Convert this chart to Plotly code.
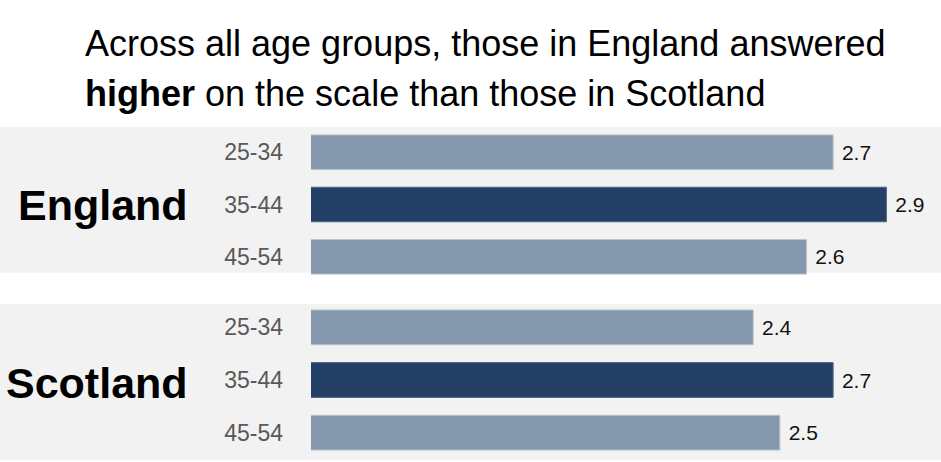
import plotly.graph_objects as go

# data
age_groups = ["25-34", "35-44", "45-54"]
england = [2.7, 2.9, 2.6]
scotland = [2.4, 2.7, 2.5]
countries = ["England", "Scotland"]
title_lines = ["Across all age groups, those in England answered",
               "<b>higher</b> on the scale than those in Scotland"]

LIGHT = "#8498ad"
DARK = "#233f66"
colors = [LIGHT, DARK, LIGHT]
edges = ["#b7c3cf", "#4a6485", "#b7c3cf"]

W, H = 941, 462
FONT = "Liberation Sans, Arial"


def py(px):
    # pixel (from top) -> paper fraction
    return 1 - px / H


fig = go.Figure()

for i, vals in enumerate([england, scotland]):
    ax = "" if i == 0 else "2"
    fig.add_trace(go.Bar(
        x=vals, y=age_groups, orientation="h",
        marker=dict(color=colors, line=dict(color=edges, width=1)),
        text=[f"\u00a0{v:.1f}" for v in vals], textposition="outside",
        textfont=dict(size=21, color="#111111", family=FONT),
        cliponaxis=False, width=0.66, hoverinfo="skip",
        xaxis="x" + ax, yaxis="y" + ax, showlegend=False,
    ))

# grey panels behind each country
panels = [(127, 272.7), (304, 460)]
for top, bottom in panels:
    fig.add_shape(type="rect", xref="paper", yref="paper", x0=0, x1=1,
                  y0=py(bottom), y1=py(top), fillcolor="#f2f2f2",
                  line_width=0, layer="below")

xrange = [0.74, 3.105]
xdom = [311 / W, 1.0]
axis_common = dict(range=xrange, domain=xdom, visible=False, fixedrange=True)
yaxis_common = dict(autorange="reversed", showgrid=False, zeroline=False,
                    ticks="", ticklabelstandoff=27, fixedrange=True,
                    tickfont=dict(size=23, color="#595959", family=FONT))

fig.update_layout(
    width=W, height=H,
    margin=dict(l=0, r=0, t=0, b=0),
    paper_bgcolor="white", plot_bgcolor="rgba(0,0,0,0)",
    bargap=0.34,
    xaxis=dict(anchor="y", **axis_common),
    xaxis2=dict(anchor="y2", **axis_common),
    yaxis=dict(domain=[py(283), py(126)], anchor="x", **yaxis_common),
    yaxis2=dict(domain=[py(459), py(301)], anchor="x2", **yaxis_common),
    font=dict(family=FONT),
)

# country labels
for name, yc in zip(countries, [205, 383]):
    fig.add_annotation(text=f"<b>{name}</b>", xref="paper", yref="paper",
                       x=190 / W, y=py(yc), xanchor="right", yanchor="middle",
                       showarrow=False,
                       font=dict(size=43, color="black", family=FONT))

# title, one annotation per line to match the line spacing
for line, yc in zip(title_lines, [43, 93]):
    fig.add_annotation(
        text=line, xref="paper", yref="paper", x=83 / W, y=py(yc),
        xanchor="left", yanchor="middle", align="left", showarrow=False,
        font=dict(size=36, color="black", family=FONT),
    )

fig.write_html("out.html", config={"displayModeBar": False},
               post_script="document.body.style.margin='0px';")
